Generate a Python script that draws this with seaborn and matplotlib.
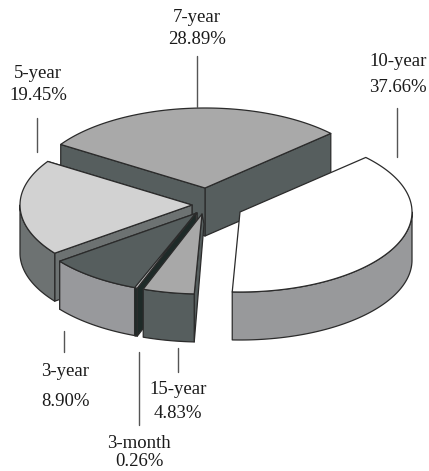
#! /bin/env python3

import numpy as np
import matplotlib
matplotlib.use('Agg')
import matplotlib.pyplot as plt
import seaborn as sns
from matplotlib.patches import Polygon

# data, counter-clockwise from the start angle
maturities = ["7-year", "5-year", "3-year", "3-month", "15-year", "10-year"]
shares = [28.89, 19.45, 8.90, 0.26, 4.83, 37.66]
share_labels = ["28.89%", "19.45%", "8.90%", "0.26%", "4.83%", "37.66%"]

sns.set_theme(style="white")
plt.rcParams['font.family'] = ['Liberation Serif', 'DejaVu Serif']

START = 43.0
RX, RY = 172.0, 80.0
DEPTH = 48.0
EDGE = "#2b2b2b"

# exploded centre of every slice, in pixels
centres = [(205, 188), (192, 205), (197, 213), (196, 213), (202, 214), (240, 212)]
# offset of the inner lower corner of a cut face, the 15-year one narrows to a point
inner = [(0, 48), (0, 48), (0, 48), (0, 48), (2, 10), (0, 48)]
tops = ["#a9a9a9", "#d2d2d2", "#565e5e", "#c4c4c4", "#a8a8a8", "#ffffff"]
walls = ["#565e5e", "#6d7272", "#98999c", "#1e2a28", "#565e5e", "#98999b"]
cuts = ["#565e5e", "#6d7272", "#8c8e90", "#1e2a28", "#565e5e", "#98999b"]

# text position and leader line for each slice: (x, name y, share y), (x, y0, y1)
label_pos = [(197, 18, 40), (38, 73, 95), (65, 372, 402), (139, 444, 462), (178, 390, 414), (398, 62, 88)]
leaders = [(197, 56, 107), (37, 118, 152), (64, 331, 352), (139, 352, 425), (178, 348, 372), (397, 108, 157)]

fig = plt.figure(figsize=(4.29, 4.71), dpi=100)
axes = fig.add_axes([0, 0, 1, 1])
axes.set_xlim(0, 429)
axes.set_ylim(471, 0)
axes.axis('off')


def rim(centre, a0, a1):
    ang = np.radians(np.linspace(a0, a1, max(int(abs(a1 - a0)) * 2, 2)))
    return np.column_stack([centre[0] + RX * np.cos(ang), centre[1] - RY * np.sin(ang)])


def poly(points, colour):
    axes.add_patch(Polygon(points, closed=True, facecolor=colour, edgecolor=EDGE, lw=0.9, joinstyle='round'))


ends = START + np.cumsum(shares) / np.sum(shares) * 360.0
begins = np.concatenate([[START], ends[:-1]])

for i, (a0, a1) in enumerate(zip(begins, ends)):
    c = np.array(centres[i], dtype=float)
    down = np.array([0, DEPTH])

    # the cut faces, start side first
    for ang in (a0, a1):
        tip = rim(c, ang, ang)[0]
        # a face shows when it turns towards the viewer
        if (ang == a0 and np.cos(np.radians(ang)) < 0 and i < 3) or (ang == a1 and np.cos(np.radians(ang)) > -0.9 and i != 5) or i == 0:
            poly([c, tip, tip + down, c + inner[i]], cuts[i])

    # the outer wall, only where the rim is at the front
    lo, hi = max(a0, 180.0), min(a1, 360.0)
    if hi > lo:
        arc = rim(c, lo, hi)
        poly(np.vstack([arc, (arc + down)[::-1]]), walls[i])

    poly(np.vstack([[c], rim(c, a0, a1)]), tops[i])

for name, share, pos, line in zip(maturities, share_labels, label_pos, leaders):
    axes.text(pos[0], pos[1], name, ha='center', va='center', fontsize=13.5, color="#1a1a1a")
    axes.text(pos[0], pos[2], share, ha='center', va='center', fontsize=13.5, color="#1a1a1a")
    axes.plot([line[0], line[0]], [line[1], line[2]], color="#555555", lw=1.0)

sns.despine(ax=axes, left=True, bottom=True)

fig.savefig('out.png', dpi=100)
